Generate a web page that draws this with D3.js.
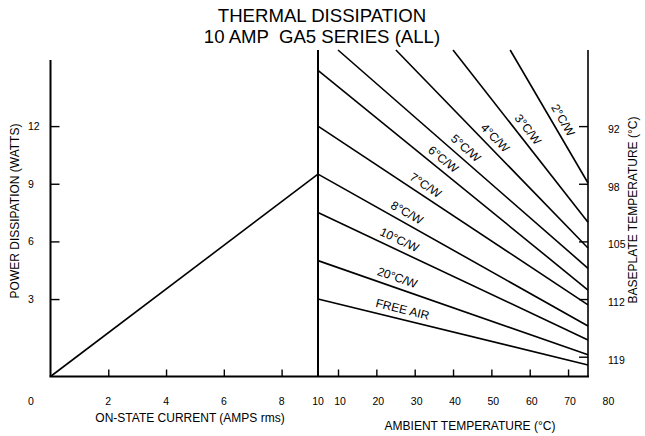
<!DOCTYPE html>
<html>
<head>
<meta charset="utf-8">
<script src="https://cdn.jsdelivr.net/npm/d3@7"></script>
<style>
  body { margin: 0; background: #fff; }
  svg { font-family: "Liberation Sans", Arial, sans-serif; }
</style>
</head>
<body>
<div id="chart"></div>
<script>
// axis ticks
var powerTicks = [3, 6, 9, 12]
var baseplateAt = [0, 3, 6, 9, 12]
var baseplateLabels = ['119', '112', '105', '98', '92']
var currentTicks = [2, 4, 6, 8]
var ambientTicks = [10, 20, 30, 40, 50, 60, 70]
var ambientLabels = [10, 20, 30, 40, 50, 60, 70, 80]

// left panel: power vs on-state current
var currentAmps = [0, 9.26]
var currentWatts = [-1.03, 9.5]

// right panel: derating lines (start / end in ambient degC and watts)
var curveNames = ['2°C/W', '3°C/W', '4°C/W', '5°C/W', '6°C/W', '7°C/W', '8°C/W', '10°C/W', '20°C/W', 'FREE AIR']
var startAmbient = [54.9, 40.0, 25.1, 10.0, 4.78, 4.78, 4.78, 4.78, 4.78, 4.78]
var startWatts = [15.96, 15.96, 15.96, 15.96, 14.9, 12, 9.5, 7.5, 5, 3]
var endAmbient = [75.2, 75.2, 75.2, 75.2, 75.2, 75.2, 75.2, 75.2, 75.2, 75.2]
var endWatts = [9.04, 7.0, 5.66, 4.6, 3.47, 2.7, 1.6, 0.87, 0.1, -0.43]
var labelAmbient = [66.4, 57.5, 49.1, 41.6, 35.8, 31.4, 26.7, 24.9, 24.6, 26.2]

var W = 645, H = 436
var svg = d3.select('#chart').append('svg').attr('width', W).attr('height', H)

var yTop = 50, yBottom = 376.5, leftTop = 60
var xLeft0 = 50.5, xMid = 318, xRight = 588

var y = d3.scaleLinear().domain([-1.03, 15.96]).range([yBottom, yTop])
var xL = d3.scaleLinear().domain([0, 9.26]).range([xLeft0, xMid])
var xR = d3.scaleLinear().domain([4.78, 75.2]).range([xMid, xRight])

// title
var title = svg.append('text').attr('text-anchor', 'middle').attr('font-size', 18.6).style('white-space', 'pre')
title.append('tspan').attr('x', 322).attr('y', 22).text('THERMAL DISSIPATION')
title.append('tspan').attr('x', 322).attr('y', 43).text('10 AMP  GA5 SERIES (ALL)')

// frame lines
svg.append('line').attr('x1', xLeft0).attr('x2', xLeft0).attr('y1', leftTop).attr('y2', yBottom)
  .attr('stroke', '#000').attr('stroke-width', 2)
svg.append('line').attr('x1', xMid).attr('x2', xMid).attr('y1', yTop).attr('y2', yBottom)
  .attr('stroke', '#000').attr('stroke-width', 2)
svg.append('line').attr('x1', xRight).attr('x2', xRight).attr('y1', yTop).attr('y2', yBottom)
  .attr('stroke', '#000').attr('stroke-width', 1.6)
svg.append('line').attr('x1', xLeft0 - 1).attr('x2', xRight + 1).attr('y1', yBottom).attr('y2', yBottom)
  .attr('stroke', '#000').attr('stroke-width', 2)

// left power axis
var leftAxis = svg.append('g').attr('transform', `translate(${xLeft0},0)`)
  .call(d3.axisLeft(y).tickValues(powerTicks).tickSize(-9).tickPadding(0))
leftAxis.select('.domain').remove()
leftAxis.selectAll('line').attr('stroke-width', 1.4)
leftAxis.selectAll('text').attr('text-anchor', 'start').attr('x', -22.5).attr('font-size', 10.5)
  .attr('font-family', '"Liberation Sans", Arial, sans-serif')

// right baseplate axis
var rightAxis = svg.append('g').attr('transform', `translate(${xRight},0)`)
  .call(d3.axisRight(y).tickValues(baseplateAt).tickSize(-9).tickPadding(20)
    .tickFormat((d, i) => baseplateLabels[i]))
rightAxis.select('.domain').remove()
rightAxis.selectAll('line').attr('stroke-width', 1.4)
rightAxis.selectAll('text').attr('font-size', 10.5).attr('dy', '0.6em')
  .attr('font-family', '"Liberation Sans", Arial, sans-serif')

// bottom ticks
var botL = svg.append('g').attr('transform', `translate(0,${yBottom})`)
  .call(d3.axisBottom(xL).tickValues(currentTicks).tickSize(-7).tickFormat(''))
botL.select('.domain').remove()
botL.selectAll('line').attr('stroke-width', 1.4)
var botR = svg.append('g').attr('transform', `translate(0,${yBottom})`)
  .call(d3.axisBottom(xR).tickValues(ambientTicks).tickSize(-7).tickFormat(''))
botR.select('.domain').remove()
botR.selectAll('line').attr('stroke-width', 1.4)

// bottom tick labels
var tickY = 405
svg.append('text').attr('x', 31).attr('y', tickY).attr('text-anchor', 'middle').attr('font-size', 10.5).text('0')
svg.selectAll('.curLab').data(currentTicks).enter().append('text')
  .attr('x', d => xL(d)).attr('y', tickY).attr('text-anchor', 'middle').attr('font-size', 10.5).text(d => d)
svg.append('text').attr('x', xMid).attr('y', tickY).attr('text-anchor', 'middle').attr('font-size', 10.5).text('10')
svg.selectAll('.ambLab').data(ambientLabels).enter().append('text')
  .attr('x', d => xR(d) + 2).attr('y', tickY).attr('text-anchor', 'middle').attr('font-size', 10.5).text(d => d)

// axis titles
svg.append('text').attr('x', 190).attr('y', 422).attr('text-anchor', 'middle').attr('font-size', 12)
  .text('ON-STATE CURRENT (AMPS rms)')
svg.append('text').attr('x', 470).attr('y', 430).attr('text-anchor', 'middle').attr('font-size', 12)
  .text('AMBIENT TEMPERATURE (°C)')
svg.append('text').attr('transform', 'translate(19,211) rotate(-90)').attr('text-anchor', 'middle').attr('font-size', 12)
  .text('POWER DISSIPATION (WATTS)')
svg.append('text').attr('transform', 'translate(637,210) rotate(-90)').attr('text-anchor', 'middle').attr('font-size', 12)
  .text('BASEPLATE TEMPERATURE (°C)')

// left panel line
var line = d3.line()
svg.append('path')
  .attr('d', line(currentAmps.map((a, i) => [xL(a), y(currentWatts[i])])))
  .attr('fill', 'none').attr('stroke', '#000').attr('stroke-width', 1.6)

// derating lines
curveNames.forEach(function (name, i) {
  var p0 = [xR(startAmbient[i]), y(startWatts[i])]
  var p1 = [xR(endAmbient[i]), y(endWatts[i])]
  svg.append('path').attr('d', line([p0, p1]))
    .attr('fill', 'none').attr('stroke', '#000').attr('stroke-width', 1.6)

  var t = (labelAmbient[i] - startAmbient[i]) / (endAmbient[i] - startAmbient[i])
  var w = startWatts[i] + t * (endWatts[i] - startWatts[i])
  var ang = Math.atan2(p1[1] - p0[1], p1[0] - p0[0]) * 180 / Math.PI
  svg.append('text')
    .attr('transform', `translate(${xR(labelAmbient[i])},${y(w)}) rotate(${ang})`)
    .attr('y', -6).attr('text-anchor', 'middle').attr('font-size', 12)
    .text(name)
})
</script>
</body>
</html>
